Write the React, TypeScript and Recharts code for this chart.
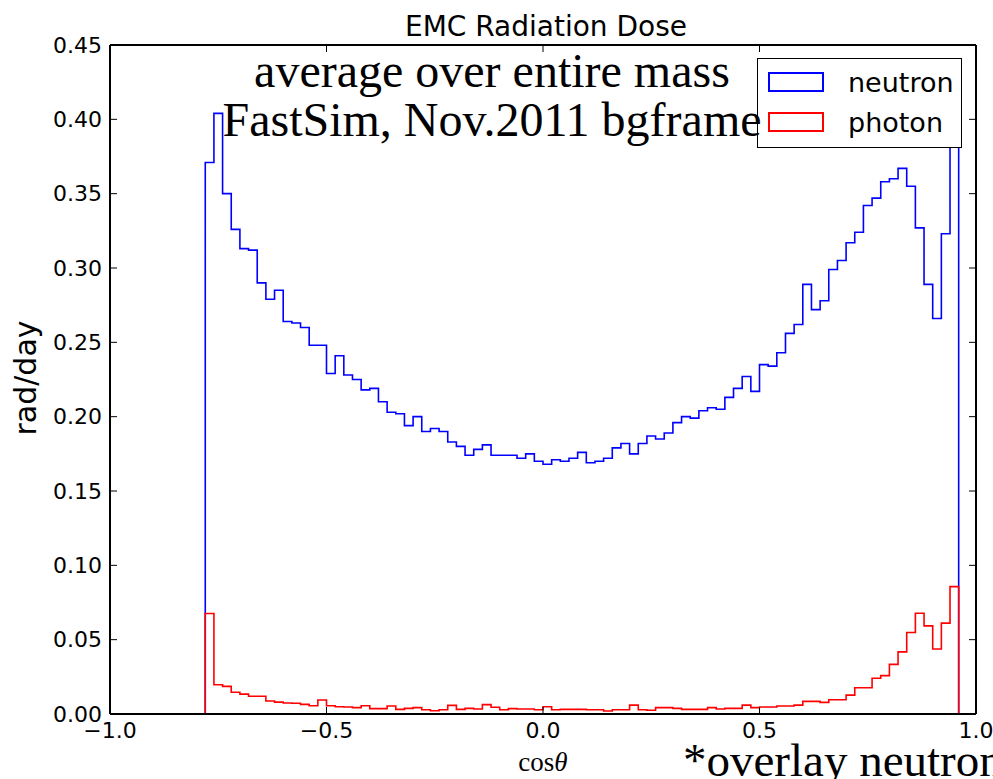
import { Legend, Line, LineChart, XAxis, YAxis } from "recharts";

// histogram binning: 87 bins of 0.02 from -0.78
const binStart = -0.78;
const binWidth = 0.02;

const neutron = [
    0.371, 0.404, 0.350, 0.326, 0.313, 0.312, 0.290, 0.279, 0.285, 0.264,
    0.263, 0.260, 0.248, 0.248, 0.229, 0.241, 0.228, 0.225, 0.218, 0.219,
    0.210, 0.203, 0.202, 0.194, 0.200, 0.190, 0.192, 0.190, 0.183, 0.180,
    0.174, 0.178, 0.181, 0.174, 0.174, 0.174, 0.172, 0.175, 0.170, 0.168,
    0.171, 0.170, 0.172, 0.176, 0.169, 0.170, 0.172, 0.179, 0.182, 0.175,
    0.182, 0.187, 0.185, 0.189, 0.196, 0.200, 0.199, 0.204, 0.206, 0.205,
    0.213, 0.219, 0.227, 0.217, 0.235, 0.234, 0.243, 0.256, 0.262, 0.289,
    0.272, 0.278, 0.299, 0.305, 0.317, 0.324, 0.342, 0.347, 0.358, 0.360,
    0.367, 0.355, 0.327, 0.289, 0.266, 0.323, 0.400,
];

const photon = [
    0.0676, 0.0197, 0.0186, 0.0146, 0.0134, 0.0119, 0.0119, 0.0087, 0.0080, 0.0074,
    0.0072, 0.0065, 0.0056, 0.0094, 0.0056, 0.0049, 0.0047, 0.0043, 0.0056, 0.0036,
    0.0036, 0.0054, 0.0031, 0.0038, 0.0043, 0.0029, 0.0022, 0.0029, 0.0058, 0.0031,
    0.0038, 0.0034, 0.0063, 0.0045, 0.0029, 0.0036, 0.0034, 0.0034, 0.0029, 0.0049,
    0.0029, 0.0031, 0.0031, 0.0031, 0.0029, 0.0029, 0.0020, 0.0029, 0.0029, 0.0060,
    0.0029, 0.0025, 0.0043, 0.0043, 0.0038, 0.0031, 0.0031, 0.0031, 0.0043, 0.0034,
    0.0038, 0.0038, 0.0060, 0.0043, 0.0047, 0.0047, 0.0054, 0.0054, 0.0060, 0.0085,
    0.0085, 0.0078, 0.0096, 0.0096, 0.0127, 0.0177, 0.0177, 0.0240, 0.0258, 0.0334,
    0.0418, 0.0548, 0.0678, 0.0593, 0.0437, 0.0611, 0.0857,
];

const xTicks = [-1.0, -0.5, 0.0, 0.5, 1.0];
const yTicks = [0, 0.05, 0.1, 0.15, 0.2, 0.25, 0.3, 0.35, 0.4, 0.45];

// step outline like matplotlib histtype="step"
const lastEdge = binStart + neutron.length * binWidth;
const data = [
    { x: binStart, neutron: 0, photon: 0 },
    ...neutron.map((v, i) => ({ x: binStart + i * binWidth, neutron: v, photon: photon[i] })),
    { x: lastEdge, neutron: neutron[neutron.length - 1], photon: photon[photon.length - 1] },
    { x: lastEdge, neutron: 0, photon: 0 },
];

const tickFont = { fontFamily: "DejaVu Sans", fontSize: 22, fill: "#000" };
const fmtX = (v: number) => (v < 0 ? "\u2212" + Math.abs(v).toFixed(1) : v.toFixed(1));
const frame = { stroke: "#000", strokeWidth: 2 };

function LegendBox({ payload }: any) {
    return (
        <div style={{
            width: 205, height: 90, boxSizing: "border-box", border: "1.5px solid #000",
            background: "#fff", fontFamily: "DejaVu Sans", fontSize: 27, paddingTop: 3,
        }}>
            {(payload || []).map((p: any) => (
                <div key={p.value} style={{ display: "flex", alignItems: "center", height: 40 }}>
                    <span style={{
                        display: "inline-block", width: 56, height: 20, marginLeft: 10,
                        border: `2px solid ${p.color}`, boxSizing: "border-box",
                    }} />
                    <span style={{ marginLeft: 24 }}>{p.value}</span>
                </div>
            ))}
        </div>
    );
}

export default function App() {
    return (
        <div style={{ position: "absolute", left: 0, top: 0, width: 993, height: 779, background: "#fff", overflow: "hidden" }}>
            <LineChart width={993} height={779} data={data} margin={{ top: 44, right: 16, bottom: 0, left: 0 }}>
                <XAxis
                    dataKey="x" type="number" domain={[-1, 1]} ticks={xTicks} height={65}
                    tickFormatter={fmtX} tick={tickFont} tickSize={-7} tickMargin={15}
                    axisLine={frame} tickLine={{ stroke: "#000" }}
                    allowDataOverflow
                />
                <XAxis
                    xAxisId="top" orientation="top" dataKey="x" type="number" domain={[-1, 1]}
                    ticks={xTicks} height={1} tickFormatter={() => ""} tickSize={-7}
                    axisLine={frame} tickLine={{ stroke: "#000" }}
                    allowDataOverflow
                />
                <YAxis
                    type="number" domain={[0, 0.45]} ticks={yTicks} width={110}
                    tickFormatter={(v: number) => v.toFixed(2)} tick={tickFont} tickSize={-7} tickMargin={15}
                    axisLine={frame} tickLine={{ stroke: "#000" }}
                    allowDataOverflow
                />
                <YAxis
                    yAxisId="right" orientation="right" type="number" domain={[0, 0.45]} ticks={yTicks}
                    width={1} tickFormatter={() => ""} tickSize={-7}
                    axisLine={frame} tickLine={{ stroke: "#000" }}
                    allowDataOverflow
                />
                <Line type="stepAfter" dataKey="neutron" name="neutron" stroke="#0000ff" strokeWidth={1.6}
                    dot={false} activeDot={false} isAnimationActive={false} />
                {/* photon is plotted against the mirrored top/right axes (same domains) so the frame is drawn */}
                <Line type="stepAfter" dataKey="photon" name="photon" stroke="#ff0000" strokeWidth={1.6}
                    xAxisId="top" yAxisId="right"
                    dot={false} activeDot={false} isAnimationActive={false} />
                <Legend
                    layout="horizontal" verticalAlign="middle" align="center"
                    content={<LegendBox />}
                    wrapperStyle={{ left: 757, top: 58, width: 205, height: 90 }}
                />
            </LineChart>
            <svg width={993} height={779} style={{ position: "absolute", left: 0, top: 0, pointerEvents: "none" }}>
                <text x={546} y={36} textAnchor="middle" fontFamily="DejaVu Sans" fontSize={28}>EMC Radiation Dose</text>
                <text x={492} y={87} textAnchor="middle" fontFamily="Liberation Serif" fontSize={48}>average over entire mass</text>
                <text x={492} y={136} textAnchor="middle" fontFamily="Liberation Serif" fontSize={48}>FastSim, Nov.2011 bgframe</text>
                <text x={683} y={776} fontFamily="Liberation Serif" fontSize={47}>*overlay neutron</text>
                <text x={543} y={771} textAnchor="middle" fontFamily="Liberation Serif" fontSize={27}>
                    cos<tspan fontStyle="italic">θ</tspan>
                </text>
                <text x={0} y={0} transform="translate(36,378) rotate(-90)" textAnchor="middle"
                    fontFamily="DejaVu Sans" fontSize={30}>rad/day</text>
            </svg>
        </div>
    );
}
